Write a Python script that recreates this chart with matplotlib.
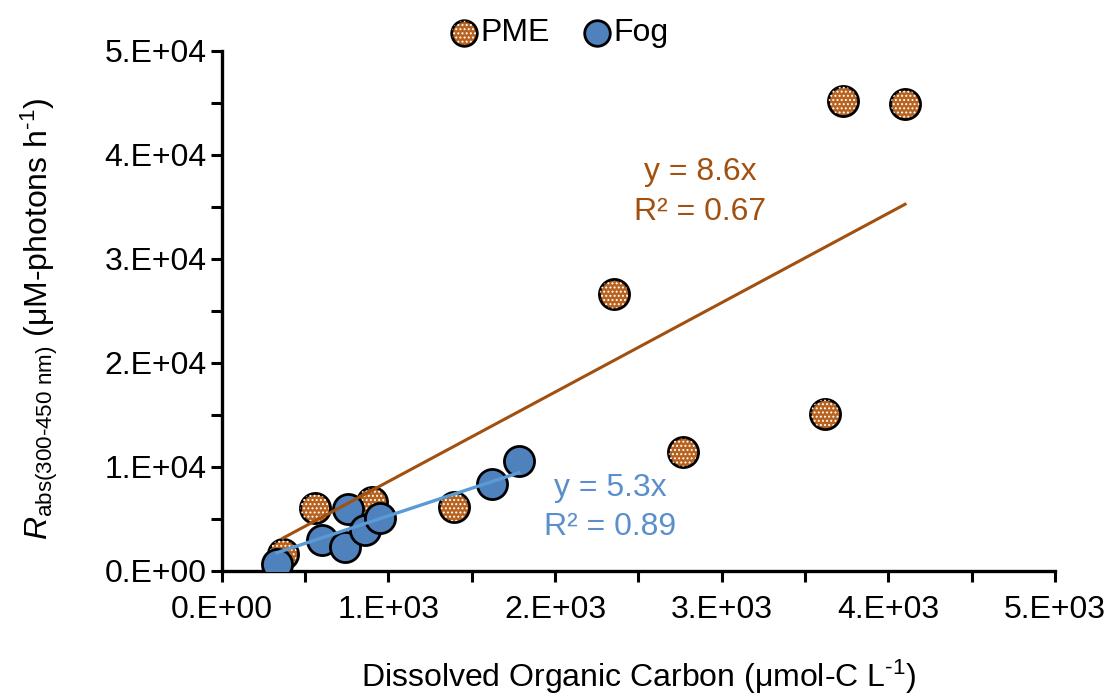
import numpy as np
import matplotlib
matplotlib.use("Agg")
from matplotlib import pyplot as plt
from matplotlib.ticker import MultipleLocator, FuncFormatter

# Data
pme_doc = [366, 558, 900, 1393, 2353, 2767, 3619, 3727, 4100]
pme_rabs = [1640, 6060, 6630, 6150, 26600, 11400, 15100, 45200, 44900]
fog_doc = [330, 600, 738, 756, 858, 948, 1621, 1783]
fog_rabs = [670, 2980, 2310, 5960, 3940, 5100, 8370, 10580]

pme_slope = 8.6
fog_slope = 5.3
pme_r2 = 0.67
fog_r2 = 0.89

orange_fill = '#B8621F'
orange_line = '#A2500F'
blue_fill = '#4F81BD'
blue_line = '#5B9BD5'
blue_text = '#5B8FCC'

plt.rcParams['font.family'] = ['Liberation Sans', 'DejaVu Sans']
plt.rcParams['mathtext.fontset'] = 'custom'
plt.rcParams['mathtext.rm'] = 'Liberation Sans'
plt.rcParams['mathtext.it'] = 'Liberation Sans:italic'
plt.rcParams['hatch.linewidth'] = 0.9

fs = 23

fig = plt.figure(figsize=(11.2, 6.98), dpi=100)
ax = fig.add_axes([0.198, 0.182, 0.744, 0.745])

pme = ax.scatter(pme_doc, pme_rabs, s=470, facecolor=orange_fill, edgecolor='black',
                 linewidth=2.0, zorder=3)
# white dot pattern on top of the orange fill
pme_dots = ax.scatter(pme_doc, pme_rabs, s=420, facecolor='none', edgecolor='white',
                      linewidth=0, hatch='....', zorder=3.1)
fog = ax.scatter(fog_doc, fog_rabs, s=470, facecolor=blue_fill, edgecolor='black',
                 linewidth=2.0, zorder=4)

# trendlines through origin, drawn over the data range
xp = np.array([min(pme_doc), max(pme_doc)])
ax.plot(xp, pme_slope * xp, color=orange_line, lw=2.2, zorder=5)
xf = np.array([min(fog_doc), max(fog_doc)])
ax.plot(xf, fog_slope * xf, color=blue_line, lw=2.4, zorder=5)

ax.text(2869, 38400, "y = {}x".format(pme_slope), color=orange_line,
        fontsize=fs, ha='center', va='center')
ax.text(2869, 34500, "R² = {}".format(pme_r2), color=orange_line,
        fontsize=fs, ha='center', va='center')
ax.text(2329, 8000, "y = {}x".format(fog_slope), color=blue_text,
        fontsize=fs, ha='center', va='center')
ax.text(2329, 4230, "R² = {}".format(fog_r2), color=blue_text,
        fontsize=fs, ha='center', va='center')

ax.set_xlim(0, 5000)
ax.set_ylim(0, 50000)
ax.xaxis.set_major_locator(MultipleLocator(1000))
ax.xaxis.set_minor_locator(MultipleLocator(500))
ax.yaxis.set_major_locator(MultipleLocator(10000))
ax.yaxis.set_minor_locator(MultipleLocator(5000))
fmt = FuncFormatter(lambda v, p: format(v, '#.0E'))
ax.xaxis.set_major_formatter(fmt)
ax.yaxis.set_major_formatter(fmt)
ax.tick_params(which='both', direction='out', length=8, width=2.2, labelsize=fs, color='black')
ax.tick_params(axis='x', pad=9)
ax.tick_params(axis='y', pad=3)

for side in ['top', 'right']:
    ax.spines[side].set_visible(False)
for side in ['left', 'bottom']:
    ax.spines[side].set_linewidth(2.4)

ax.set_xlabel(r"Dissolved Organic Carbon ($\mathregular{\mu}$mol-C L$^{\text{-1}}$)",
              fontsize=fs, labelpad=24)
ax.set_ylabel(r"$R_{\text{abs(300-450 nm)}}$ ($\mathregular{\mu}$M-photons h$^{\text{-1}}$)",
              fontsize=fs, labelpad=32, y=0.485)

fig.legend(handles=[(pme, pme_dots), fog], labels=['PME', 'Fog'], loc='upper center',
           bbox_to_anchor=(0.497, 1.015), ncol=2, frameon=False, fontsize=fs,
           markerscale=0.85, handletextpad=-0.1, columnspacing=0.9, handlelength=1.2)

fig.savefig('out.png', dpi=100)
